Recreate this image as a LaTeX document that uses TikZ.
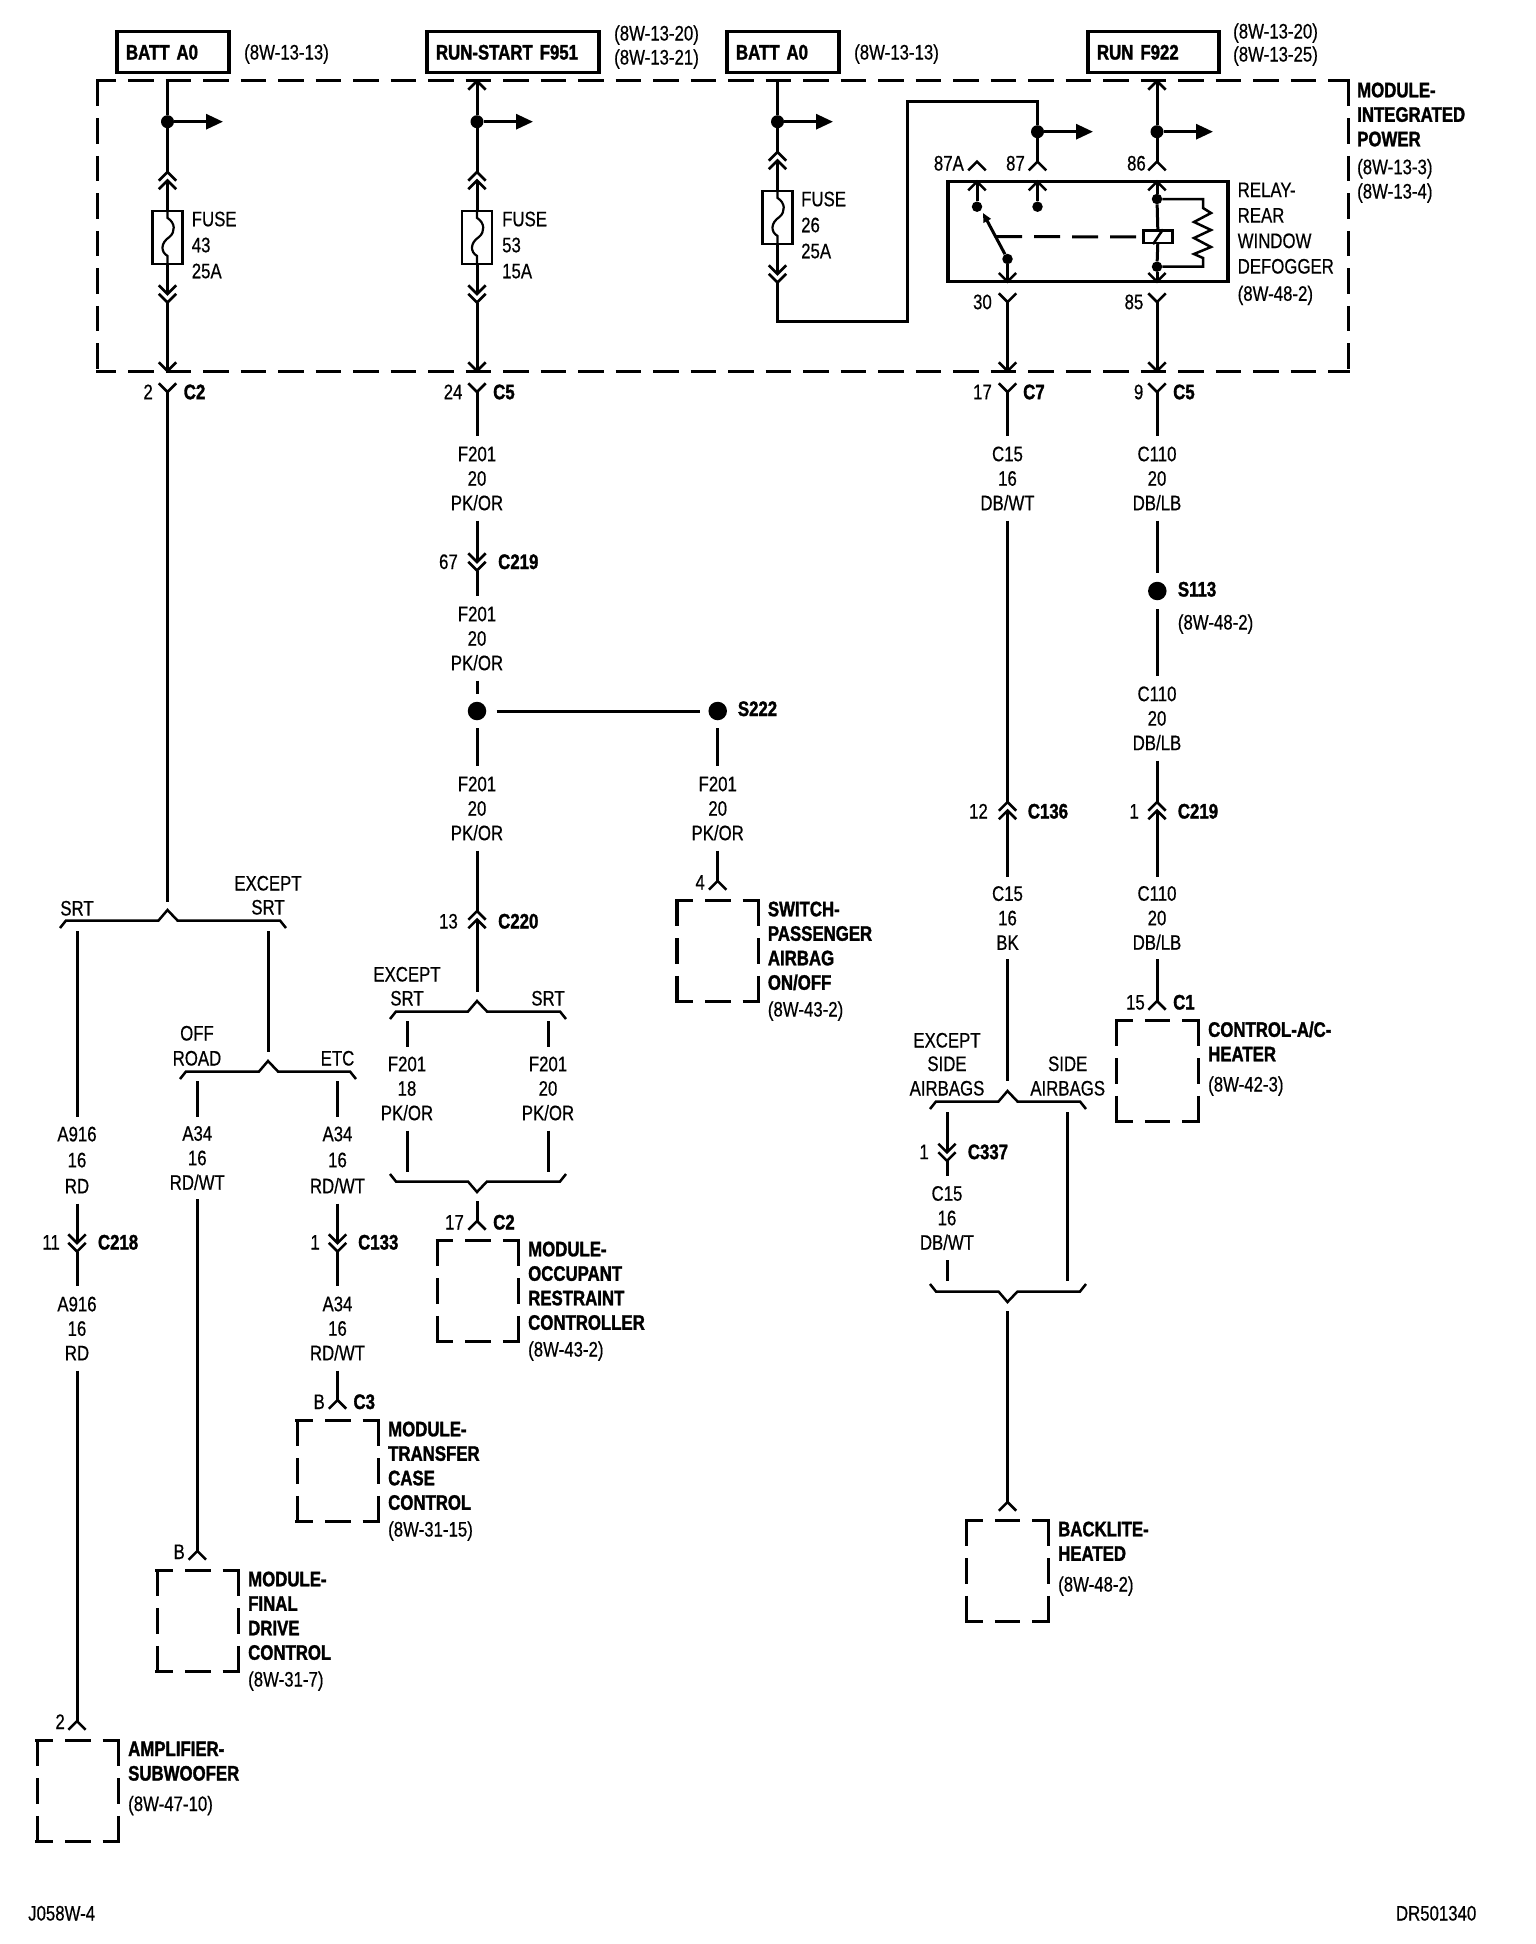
\documentclass[tikz,border=0pt]{standalone}
\usepackage{fontspec}
\setmainfont[FakeStretch=0.8,WordSpace=0.7,FakeBold=0.5,BoldFeatures={FakeBold=1.5}]{Liberation Sans}
\usetikzlibrary{arrows.meta}
\tikzset{
wire/.style={line width=3pt}, % ordinary conductor
thinwire/.style={line width=2.5pt},
dashline/.style={line width=3.2pt, dash pattern=on 25.5pt off 12pt},
jct/.style={circle, fill=black, inner sep=0pt, minimum size=13pt},
jctsmall/.style={circle, fill=black, inner sep=0pt, minimum size=10.5pt},
splice/.style={circle, fill=black, inner sep=0pt, minimum size=18.5pt},
lbl/.style={inner sep=0pt, text height=15pt, text depth=0pt, anchor=west, font=\fontsize{21}{24.5}\selectfont},
lblr/.style={lbl, anchor=east},
lblb/.style={lbl, font=\fontsize{21}{24.5}\selectfont\bfseries},
lbltext/.style={inner sep=0pt, anchor=north west, align=left, font=\fontsize{21}{24.5}\selectfont},
lblbold/.style={lbltext, font=\fontsize{21}{24.5}\selectfont\bfseries},
wirelab/.style={inner sep=0pt, align=center, minimum height=#1, font=\fontsize{21}{24.5}\selectfont},
wirelab/.default=84pt,
widelab/.style={wirelab=87pt, font=\fontsize{21}{26}\selectfont},
srcbox/.style={draw, line width=3.4pt, outer sep=0pt, minimum height=41pt, inner ysep=0pt, inner xsep=9pt, align=left, anchor=west,
  text height=15pt, text depth=0pt, font=\fontsize{21}{24.5}\selectfont\bfseries},
fuse/.style={draw, line width=2.2pt, minimum width=30pt, minimum height=53pt, inner sep=0pt},
modframe/.style={inner sep=0pt, minimum width=81pt, minimum height=100pt},
pics/chevup/.style={code={\coordinate (-tip) at (0,0);
  \draw[thinwire] (-8.7,8.7) -- (0,0) -- (8.7,8.7);}},
pics/chevdown/.style={code={\coordinate (-tip) at (0,0);
  \draw[thinwire] (-8.7,-8.7) -- (0,0) -- (8.7,-8.7);}},
pics/dblup/.style={code={\coordinate (-a) at (0,0); \coordinate (-b) at (0,8.5);
  \draw[thinwire] (-8.7,8.7) -- (0,0) -- (8.7,8.7) (-8.7,17.2) -- (0,8.5) -- (8.7,17.2);}},
pics/dbldown/.style={code={\coordinate (-a) at (0,0); \coordinate (-b) at (0,8.5);
  \draw[thinwire] (-8.7,-8.7) -- (0,0) -- (8.7,-8.7) (-8.7,-0.2) -- (0,8.5) -- (8.7,-0.2);}},
pics/forkup/.style 2 args={code={\draw[thinwire] (-#1,18) -- (-#1+6,10.5) -- (-9,10.5) -- (0,0) -- (10,10.5) -- (#2-6,10.5) -- (#2,18);}},
pics/forkdown/.style 2 args={code={\draw[thinwire] (-#1,-18) -- (-#1+6,-10.5) -- (-9,-10.5) -- (0,0) -- (10,-10.5) -- (#2-6,-10.5) -- (#2,-18);}},
pics/fusewave/.style={code={\draw[line width=2.2pt] (0,0) -- (0,8) .. controls (8,13) and (8,22) .. (2,27) .. controls (-7,33) and (-7,42) .. (0,46) -- (0,53);}},
stub/.style={wire, -{Triangle[length=17pt,width=15pt]}},
}
% the four sides of a dashed module outline
\newcommand{\dashsides}[3]{
\draw[dashline, dash phase=#2, shorten <=-1.7pt, shorten >=-1.7pt] (#1.north west) -- (#1.north east);
\draw[dashline, dash phase=#2, shorten <=-1.7pt, shorten >=-1.7pt] (#1.south west) -- (#1.south east);
\draw[dashline, dash phase=#3] (#1.north west) -- (#1.south west);
\draw[dashline, dash phase=#3] (#1.north east) -- (#1.south east);
}
\begin{document}
\begin{tikzpicture}[x=1pt,y=-1pt]
\useasboundingbox (0,0) rectangle (1536,1944);
% power sources
\node[srcbox, text width=94pt] (BATT1) at (117,52) {BATT A0};
\node[lbl] (REF1) at (244,52) {(8W-13-13)};
\node[srcbox, text width=154pt] (F951) at (427,52) {RUN-START F951};
\node[lbl] (REF2a) at (614,33) {(8W-13-20)};
\node[lbl] (REF2b) at (614,57) {(8W-13-21)};
\node[srcbox, text width=94pt] (BATT2) at (727,52) {BATT A0};
\node[lbl] (REF3) at (854,52) {(8W-13-13)};
\node[srcbox, text width=113pt] (F922) at (1088,52) {RUN F922};
\node[lbl] (REF4a) at (1233,31) {(8W-13-20)};
\node[lbl] (REF4b) at (1233,54) {(8W-13-25)};
% integrated power module
\node[inner sep=0pt, minimum width=1250pt, minimum height=290pt] (IPM) at (723,226) {};
\dashsides{IPM}{5.5}{0}
\node[lblbold] (IPMTXT) at (1357,82.4) {MODULE-\\INTEGRATED\\POWER};
\node[lbl] (IPMa) at (1357,166.7) {(8W-13-3)};
\node[lbl] (IPMb) at (1357,191) {(8W-13-4)};
% fuse 43
\coordinate (W1) at (167.5,81);
\node[jct] (J1) at (167.5,121.7) {};
\coordinate (A1) at (223,121.7);
\pic (C1a) at (167.5,172) {dblup};
\node[fuse] (F43) at (167.5,237.5) {};
\pic at (F43.north) {fusewave};
\pic (C1b) at (167.5,294) {dbldown};
\pic (C1c) at (167.5,371) {chevdown};
\pic (C1d) at (167.5,392) {chevdown};
\coordinate (W1e) at (167.5,902);
\draw[wire] (W1) -- (J1);
\draw[wire] (J1) -- (C1a-a);
\draw[wire] (C1a-b) -- (F43.north);
\draw[wire] (F43.south) -- (C1b-a);
\draw[wire] (C1b-b) -- (C1c-tip);
\draw[wire] (C1d-tip) -- (W1e);
\draw[stub] (J1) -- (A1);
\node[lbltext] (F43T) at (191.6,211.4) {FUSE\\[1.5pt]43\\[1.5pt]25A};
\node[lblr] (P2) at (153,391.7) {2};
\node[lblb] (C2a) at (183.6,391.7) {C2};
% fuse 53
\pic (W2) at (477,81) {chevup};
\node[jct] (J2) at (477,121.7) {};
\coordinate (A2) at (533,121.7);
\pic (C2a) at (477,172) {dblup};
\node[fuse] (F53) at (477,237.5) {};
\pic at (F53.north) {fusewave};
\pic (C2b) at (477,294) {dbldown};
\pic (C2c) at (477,371) {chevdown};
\pic (C2d) at (477,392) {chevdown};
\draw[wire] (W2-tip) -- (J2);
\draw[wire] (J2) -- (C2a-a);
\draw[wire] (C2a-b) -- (F53.north);
\draw[wire] (F53.south) -- (C2b-a);
\draw[wire] (C2b-b) -- (C2c-tip);
\draw[stub] (J2) -- (A2);
\node[lbltext] (F53T) at (502,211.4) {FUSE\\[1.5pt]53\\[1.5pt]15A};
\node[lblr] (P24) at (462.6,391.7) {24};
\node[lblb] (C5a) at (493,391.7) {C5};
% fuse 26 and the feed to the relay
\coordinate (W3) at (777.5,81);
\node[jct] (J3) at (777.5,121.7) {};
\coordinate (A3) at (833,121.7);
\pic (C3a) at (777.5,152) {dblup};
\node[fuse] (F26) at (777.5,217.5) {};
\pic at (F26.north) {fusewave};
\pic (C3b) at (777.5,274) {dbldown};
\node[jct] (J87) at (1037.5,131.7) {};
\coordinate (A87) at (1093,131.7);
\pic (C87) at (1037.5,161.7) {chevup};
\draw[wire] (W3) -- (J3);
\draw[wire] (J3) -- (C3a-a);
\draw[wire] (C3a-b) -- (F26.north);
\draw[wire] (F26.south) -- (C3b-a);
\draw[wire] (C3b-b) -- (777.5,321) -- (907.5,321) -- (907.5,101) -- (1037.5,101) -- (J87);
\draw[wire] (J87) -- (C87-tip);
\draw[stub] (J3) -- (A3);
\draw[stub] (J87) -- (A87);
\node[lbltext] (F26T) at (801,191.4) {FUSE\\[1.5pt]26\\[1.5pt]25A};
% relay
\node[draw, line width=3.4pt, inner sep=0pt, minimum width=280pt, minimum height=100pt] (RELAY) at (1088,231.7) {};
\pic (R87A) at (977,161.7) {chevup};
\pic (T87A) at (977,181.7) {chevup};
\pic (T87) at (1037.5,181.7) {chevup};
\pic (T86) at (1157,181.7) {chevup};
\pic (T30) at (1007.5,281.7) {chevdown};
\pic (T85) at (1157,281.7) {chevdown};
\node[jctsmall] (D87A) at (977,206.7) {};
\node[jctsmall] (D87) at (1037.5,206.7) {};
\node[jctsmall] (D30) at (1007.5,259) {};
\node[jctsmall] (D86) at (1157,199) {};
\node[jctsmall] (D85) at (1157,266.7) {};
\node[draw, line width=2.5pt, inner sep=0pt, minimum width=29pt, minimum height=12.3pt] (COIL) at (1158,236.8) {};
\coordinate (ARM) at (983,213);
\coordinate (LINK) at (996,236.7);
\draw[wire] (T87A-tip) -- (D87A);
\draw[wire] (T87-tip) -- (D87);
\draw[wire] (T86-tip) -- (D86);
\draw[wire] (D86) -- (COIL);
\draw[wire] (COIL) -- (D85);
\draw[wire] (D85) -- (T85-tip);
\draw[wire] (D30) -- (T30-tip);
\draw[wire, -{Triangle[length=9pt,width=8pt]}] (D30) -- (ARM);
\draw[wire, dash pattern=on 26pt off 12pt] (LINK) -- (COIL.west);
\draw[thinwire] ([xshift=-5pt]COIL.south) -- ([xshift=5pt]COIL.north);
\draw[thinwire] (D86) -- (1203,199) -- (1203,208) -- (1211,213) -- (1194,222) -- (1211,230) -- (1194,238) -- (1211,247) -- (1194,254) -- (1203,258) -- (1203,266.7) -- (D85);
\node[lbltext] (RLYT) at (1237.5,182.4) {RELAY-\\[1pt]REAR\\[1pt]WINDOW\\[1pt]DEFOGGER};
\node[lbl] (RLYR) at (1237.5,293.3) {(8W-48-2)};
\node[lblr] (L87A) at (964,163) {87A};
\node[lblr] (L87) at (1025,163) {87};
\node[lblr] (L86) at (1146,163) {86};
\node[lblr] (L30) at (992,301.7) {30};
\node[lblr] (L85) at (1143.5,301.7) {85};
% relay outputs and feed
\pic (W5) at (1157,81) {chevup};
\node[jct] (J5) at (1157,131.7) {};
\coordinate (A5) at (1213,131.7);
\pic (C86) at (1157,161.7) {chevup};
\draw[wire] (W5-tip) -- (J5);
\draw[wire] (J5) -- (C86-tip);
\draw[stub] (J5) -- (A5);
\pic (Y30) at (1007.5,302) {chevdown};
\pic (Y85) at (1157,302) {chevdown};
\pic (Y30b) at (1007.5,371) {chevdown};
\pic (Y85b) at (1157,371) {chevdown};
\pic (Y30c) at (1007.5,392) {chevdown};
\pic (Y85c) at (1157,392) {chevdown};
\draw[wire] (Y30-tip) -- (Y30b-tip);
\draw[wire] (Y85-tip) -- (Y85b-tip);
\node[lblr] (P17) at (992,391.7) {17};
\node[lblb] (C7) at (1023,391.7) {C7};
\node[lblr] (P9) at (1143.5,391.7) {9};
\node[lblb] (C5b) at (1173,391.7) {C5};
% F201 down to the splice
\node[wirelab] (F201a) at (477,478.5) {F201\\20\\PK/OR};
\pic (C219) at (477,562) {dbldown};
\node[wirelab] (F201b) at (477,638.5) {F201\\20\\PK/OR};
\node[splice] (S1) at (477,711) {};
\node[splice] (S222) at (717.7,711) {};
\coordinate (S1e) at (496.7,711);
\coordinate (S2e) at (700,711);
\coordinate (S1d) at (477,693.5);
\coordinate (S1u) at (477,728);
\coordinate (S2u) at (717.7,728);
\node[wirelab] (F201c) at (477,808.5) {F201\\20\\PK/OR};
\node[wirelab] (F201d) at (717.7,808.5) {F201\\20\\PK/OR};
\pic (C220) at (477,911) {dblup};
\pic (P4) at (717.7,881) {chevup};
\coordinate (F3e) at (477,992);
\draw[wire] (C2d-tip) -- (F201a.north);
\draw[wire] (F201a.south) -- (C219-a);
\draw[wire] (C219-b) -- (F201b.north);
\draw[wire] (F201b.south) -- (S1d);
\draw[wire] (S1e) -- (S2e);
\draw[wire] (S1u) -- (F201c.north);
\draw[wire] (S2u) -- (F201d.north);
\draw[wire] (F201c.south) -- (C220-a);
\draw[wire] (C220-b) -- (F3e);
\draw[wire] (F201d.south) -- (P4-tip);
\node[lblr] (P67) at (458,561.5) {67};
\node[lblb] (C219L) at (498,561.5) {C219};
\node[lblb] (S222L) at (737.7,708.5) {S222};
\node[lblr] (P13) at (458,921) {13};
\node[lblb] (C220L) at (498,921) {C220};
\node[lblr] (P4L) at (705,882) {4};
% switch
\node[modframe] (SWITCH) at (717.7,951) {};
\dashsides{SWITCH}{7.8}{0}
\node[lblbold] (SWT) at (767.7,901.4) {SWITCH-\\PASSENGER\\AIRBAG\\ON/OFF};
\node[lbl] (SWR) at (767.7,1009) {(8W-43-2)};
% branch to the occupant restraint controller
\pic (B3) at (477,1001) {forkup={87}{89}};
\node[lbl, anchor=center] (EX3a) at (407,974) {EXCEPT};
\node[lbl, anchor=center] (EX3b) at (407,998) {SRT};
\node[lbl, anchor=center] (SR3) at (548,998) {SRT};
\coordinate (L1) at (407,1021);
\coordinate (R1) at (548,1021);
\coordinate (L1a) at (407,1047);
\coordinate (R1a) at (548,1047);
\node[wirelab] (F201e) at (407,1088.5) {F201\\18\\PK/OR};
\node[wirelab] (F201f) at (548,1088.5) {F201\\20\\PK/OR};
\coordinate (L1b) at (407,1172);
\coordinate (R1b) at (548,1172);
\draw[wire] (L1) -- (L1a);
\draw[wire] (R1) -- (R1a);
\draw[wire] (F201e.south) -- (L1b);
\draw[wire] (F201f.south) -- (R1b);
\pic (B4) at (477,1192) {forkdown={87}{89}};
\coordinate (ORCu) at (477,1201);
\pic (P17b) at (477,1221) {chevup};
\draw[wire] (ORCu) -- (P17b-tip);
\node[lblr] (P17L) at (464,1222) {17};
\node[lblb] (C2b) at (493,1222) {C2};
\node[modframe] (ORC) at (478,1291) {};
\dashsides{ORC}{7.8}{0}
\node[lblbold] (ORCT) at (528,1241.4) {MODULE-\\OCCUPANT\\RESTRAINT\\CONTROLLER};
\node[lbl] (ORCR) at (528,1349) {(8W-43-2)};
% branch under fuse 43
\pic (B1) at (167.5,910) {forkup={107.5}{118.5}};
\node[lbl, anchor=center] (SR1) at (77,908) {SRT};
\node[lbl, anchor=center] (EX1a) at (268,883) {EXCEPT};
\node[lbl, anchor=center] (EX1b) at (268,907) {SRT};
\coordinate (SUBu) at (77,931);
\coordinate (SUBa) at (77,1116.5);
\coordinate (EXu) at (268,931);
\coordinate (EXd) at (268,1052);
\draw[wire] (SUBu) -- (SUBa);
\draw[wire] (EXu) -- (EXd);
\node[widelab] (A916a) at (77,1160) {A916\\16\\RD};
\pic (C218) at (77,1243) {dbldown};
\node[wirelab] (A916b) at (77,1328.5) {A916\\16\\RD};
\pic (P2b) at (77,1721) {chevup};
\draw[wire] (A916a.south) -- (C218-a);
\draw[wire] (C218-b) -- (A916b.north);
\draw[wire] (A916b.south) -- (P2b-tip);
\node[lblr] (P11) at (60,1242) {11};
\node[lblb] (C218L) at (97.8,1242) {C218};
\node[lblr] (P2L) at (65,1721.5) {2};
\node[modframe] (AMP) at (77.8,1791) {};
\dashsides{AMP}{7.8}{0}
\node[lblbold] (AMPT) at (128,1741.4) {AMPLIFIER-\\SUBWOOFER};
\node[lbl] (AMPR) at (128,1803.5) {(8W-47-10)};
% off road and ETC
\pic (B2) at (268,1061) {forkup={88}{88}};
\node[lbl, anchor=center] (OFF1) at (197,1033) {OFF};
\node[lbl, anchor=center] (OFF2) at (197,1058) {ROAD};
\node[lbl, anchor=center] (ETC) at (337.5,1058) {ETC};
\coordinate (FDu) at (197.3,1081);
\coordinate (FDa) at (197.3,1117);
\coordinate (TCu) at (337.5,1081);
\coordinate (TCa) at (337.5,1117);
\draw[wire] (FDu) -- (FDa);
\draw[wire] (TCu) -- (TCa);
\node[wirelab=82pt] (A34a) at (197.3,1158) {A34\\16\\RD/WT};
\pic (PB) at (197.3,1551) {chevup};
\draw[wire] (A34a.south) -- (PB-tip);
\node[lblr] (PBL) at (185,1551.5) {B};
\node[modframe] (FINAL) at (197.8,1621) {};
\dashsides{FINAL}{7.8}{0}
\node[lblbold] (FINT) at (248,1571.4) {MODULE-\\FINAL\\DRIVE\\CONTROL};
\node[lbl] (FINR) at (248,1679) {(8W-31-7)};
\node[widelab] (A34b) at (337.5,1160) {A34\\16\\RD/WT};
\pic (C133) at (337.5,1243) {dbldown};
\node[wirelab] (A34c) at (337.5,1328.5) {A34\\16\\RD/WT};
\pic (PB2) at (337.5,1400) {chevup};
\draw[wire] (A34b.south) -- (C133-a);
\draw[wire] (C133-b) -- (A34c.north);
\draw[wire] (A34c.south) -- (PB2-tip);
\node[lblr] (P1a) at (320,1242) {1};
\node[lblb] (C133L) at (358,1242) {C133};
\node[lblr] (PB2L) at (325,1401.5) {B};
\node[lblb] (C3) at (353.3,1401.5) {C3};
\node[modframe] (XFER) at (337.8,1471) {};
\dashsides{XFER}{7.8}{0}
\node[lblbold] (XFERT) at (388,1421.4) {MODULE-\\TRANSFER\\CASE\\CONTROL};
\node[lbl] (XFERR) at (388,1529) {(8W-31-15)};
% C15 run
\node[wirelab] (C15a) at (1007.5,478.5) {C15\\16\\DB/WT};
\pic (C136) at (1007.5,802) {dblup};
\node[wirelab=82.5pt] (C15b) at (1007.5,918) {C15\\16\\BK};
\coordinate (C15e) at (1007.5,1081);
\draw[wire] (Y30c-tip) -- (C15a.north);
\draw[wire] (C15a.south) -- (C136-a);
\draw[wire] (C136-b) -- (C15b.north);
\draw[wire] (C15b.south) -- (C15e);
\node[lblr] (P12) at (988,811) {12};
\node[lblb] (C136L) at (1027.7,811) {C136};
\pic (B5) at (1007.5,1091) {forkup={77.5}{78.5}};
\node[lbl, anchor=center] (EX5a) at (947,1040) {EXCEPT};
\node[lbl, anchor=center] (EX5b) at (947,1063.5) {SIDE};
\node[lbl, anchor=center] (EX5c) at (947,1088) {AIRBAGS};
\node[lbl, anchor=center] (SD5a) at (1067.7,1063.5) {SIDE};
\node[lbl, anchor=center] (SD5b) at (1067.7,1088) {AIRBAGS};
\coordinate (EXSu) at (947,1112);
\coordinate (SIDu) at (1067.7,1112);
\coordinate (SIDd) at (1067.7,1281);
\coordinate (EXSd) at (947,1281);
\pic (C337) at (947,1152.4) {dbldown};
\node[wirelab] (C15c) at (947,1218) {C15\\16\\DB/WT};
\draw[wire] (EXSu) -- (C337-a);
\draw[wire] (C337-b) -- (C15c.north);
\draw[wire] (C15c.south) -- (EXSd);
\draw[wire] (SIDu) -- (SIDd);
\node[lblr] (P1b) at (929,1151.6) {1};
\node[lblb] (C337L) at (967.7,1151.6) {C337};
\pic (B6) at (1007.5,1302) {forkdown={77.5}{78.5}};
\coordinate (BKu) at (1007.5,1311);
\pic (PBK) at (1007.5,1502) {chevup};
\draw[wire] (BKu) -- (PBK-tip);
\node[modframe] (BACK) at (1007.5,1571) {};
\dashsides{BACK}{7.8}{0}
\node[lblbold] (BACKT) at (1058,1521.4) {BACKLITE-\\HEATED};
\node[lbl] (BACKR) at (1058,1584) {(8W-48-2)};
% C110 run
\node[wirelab] (C110a) at (1157,478.5) {C110\\20\\DB/LB};
\node[splice] (S113) at (1157.3,591) {};
\coordinate (S113u) at (1157,573);
\coordinate (S113d) at (1157,609);
\node[wirelab] (C110b) at (1157,718.4) {C110\\20\\DB/LB};
\pic (C219b) at (1157,802) {dblup};
\node[wirelab=82.5pt] (C110c) at (1157,918) {C110\\20\\DB/LB};
\pic (P15) at (1157,1001) {chevup};
\draw[wire] (Y85c-tip) -- (C110a.north);
\draw[wire] (C110a.south) -- (S113u);
\draw[wire] (S113d) -- (C110b.north);
\draw[wire] (C110b.south) -- (C219b-a);
\draw[wire] (C219b-b) -- (C110c.north);
\draw[wire] (C110c.south) -- (P15-tip);
\node[lblb] (S113L) at (1177.7,589) {S113};
\node[lbl] (S113R) at (1177.7,622) {(8W-48-2)};
\node[lblr] (P1c) at (1139,811) {1};
\node[lblb] (C219c) at (1177.7,811) {C219};
\node[lblr] (P15L) at (1145,1002) {15};
\node[lblb] (C1) at (1173,1002) {C1};
\node[modframe] (HTR) at (1157.5,1071) {};
\dashsides{HTR}{7.8}{0}
\node[lblbold] (HTRT) at (1208,1021.4) {CONTROL-A/C-\\HEATER};
\node[lbl] (HTRR) at (1208,1084) {(8W-42-3)};
% sheet marks
\node[lbl] (SHEET) at (28,1913) {J058W-4};
\node[lblr] (DRAW) at (1476.5,1913) {DR501340};
\end{tikzpicture}
\end{document}
